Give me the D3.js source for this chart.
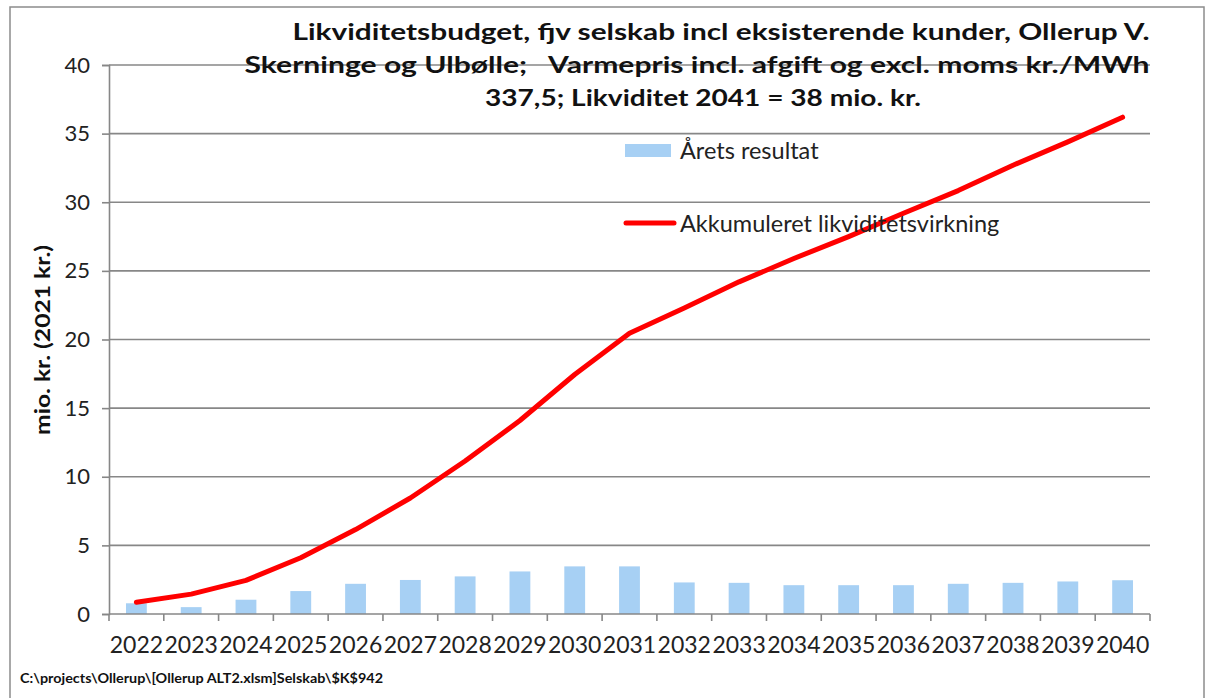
<!DOCTYPE html>
<html>
<head>
<meta charset="utf-8">
<script src="https://cdn.jsdelivr.net/npm/d3@7"></script>
<style>
  body { margin: 0; background: #fff; }
  text { font-family: Lato, "Liberation Sans", sans-serif; white-space: pre; }
</style>
</head>
<body>
<div id="chart"></div>
<script>
// chart data
const years = ["2022", "2023", "2024", "2025", "2026", "2027", "2028", "2029", "2030", "2031",
               "2032", "2033", "2034", "2035", "2036", "2037", "2038", "2039", "2040"];
const aretsResultat = [0.78, 0.5, 1.04, 1.67, 2.2, 2.48, 2.74, 3.1, 3.47, 3.47,
                       2.3, 2.27, 2.1, 2.1, 2.1, 2.2, 2.27, 2.37, 2.46];
const akkumuleret = [0.85, 1.45, 2.45, 4.1, 6.15, 8.45, 11.15, 14.1, 17.45, 20.45,
                     22.3, 24.2, 25.9, 27.5, 29.2, 30.85, 32.7, 34.4, 36.2];
const yTicks = [0, 5, 10, 15, 20, 25, 30, 35, 40];
const titleLines = [
  "Likviditetsbudget, fjv selskab incl eksisterende kunder, Ollerup V.",
  "Skerninge og Ulbølle;   Varmepris incl. afgift og excl. moms kr./MWh",
  "337,5; Likviditet 2041 = 38 mio. kr."
];
const legendLabels = ["Årets resultat", "Akkumuleret likviditetsvirkning"];

// Set dimensions and margins
const W = 1206, H = 698;
const margin = { top: 65, right: 56, bottom: 84, left: 109 };
const width = W - margin.left - margin.right;
const height = H - margin.top - margin.bottom;

const svg = d3.select("#chart")
  .append("svg")
    .attr("width", W)
    .attr("height", H);

// outer frame
svg.append("rect")
  .attr("x", 10).attr("y", 7)
  .attr("width", 1194).attr("height", 700)
  .attr("fill", "none")
  .attr("stroke", "#8c8c8c")
  .attr("stroke-width", 1.5);

const g = svg.append("g")
  .attr("transform", `translate(${margin.left},${margin.top})`);

// scales
const x = d3.scaleBand()
  .domain(years)
  .range([0, width])
  .paddingInner(0.62)
  .paddingOuter(0.31);

const y = d3.scaleLinear()
  .domain([0, 40])
  .range([height, 0]);

// gridlines
g.append("g")
  .selectAll("line")
  .data(yTicks.slice(1))
  .join("line")
    .attr("x1", 0).attr("x2", width)
    .attr("y1", d => y(d)).attr("y2", d => y(d))
    .attr("stroke", "#878787")
    .attr("stroke-width", 1.6);

// bars
g.append("g")
  .selectAll("rect")
  .data(aretsResultat)
  .join("rect")
    .attr("x", (d, i) => x(years[i]))
    .attr("y", d => y(d))
    .attr("width", x.bandwidth())
    .attr("height", d => y(0) - y(d))
    .attr("fill", "#a7d0f4");

// y axis
const yAxis = g.append("g")
  .call(d3.axisLeft(y).tickValues(yTicks).tickSize(7).tickPadding(12));
yAxis.select(".domain").attr("stroke", "#878787").attr("stroke-width", 1.6);
yAxis.selectAll(".tick line").attr("stroke", "#878787").attr("stroke-width", 1.6);
yAxis.selectAll(".tick text")
  .attr("fill", "#222")
  .style("font-size", "22px");

// x axis with ticks at the category borders
const xAxis = g.append("g")
  .attr("transform", `translate(0,${height})`);
xAxis.append("line")
  .attr("x1", 0).attr("x2", width)
  .attr("stroke", "#878787").attr("stroke-width", 1.6);
xAxis.selectAll(".xtick")
  .data(years.concat(["end"]))
  .join("line")
    .attr("class", "xtick")
    .attr("x1", (d, i) => i < years.length ? x(d) - x.step() * x.paddingInner() / 2 : width)
    .attr("x2", (d, i) => i < years.length ? x(d) - x.step() * x.paddingInner() / 2 : width)
    .attr("y1", 0).attr("y2", 7)
    .attr("stroke", "#878787").attr("stroke-width", 1.6);
xAxis.selectAll(".xlabel")
  .data(years)
  .join("text")
    .attr("class", "xlabel")
    .attr("x", d => x(d) + x.bandwidth() / 2)
    .attr("y", 39)
    .attr("text-anchor", "middle")
    .attr("fill", "#222")
    .style("font-size", "23px")
    .text(d => d);

// line
const line = d3.line()
  .x((d, i) => x(years[i]) + x.bandwidth() / 2)
  .y(d => y(d));

g.append("path")
  .datum(akkumuleret)
  .attr("fill", "none")
  .attr("stroke", "#ff0000")
  .attr("stroke-width", 5)
  .attr("stroke-linecap", "round")
  .attr("stroke-linejoin", "round")
  .attr("d", line);

// title
const titleLayout = [
  { cx: 721, y: 40, len: 857 },
  { cx: 697, y: 73, len: 905 },
  { cx: 703, y: 106, len: 436 }
];
svg.append("g")
  .selectAll("text")
  .data(titleLines)
  .join("text")
    .attr("x", (d, i) => titleLayout[i].cx)
    .attr("y", (d, i) => titleLayout[i].y)
    .attr("text-anchor", "middle")
    .attr("textLength", (d, i) => titleLayout[i].len)
    .attr("lengthAdjust", "spacingAndGlyphs")
    .style("font-size", "23px")
    .style("font-weight", "bold")
    .style("fill", "#111")
    .text(d => d);

// legend
svg.append("rect")
  .attr("x", 625).attr("y", 144)
  .attr("width", 46).attr("height", 13)
  .attr("fill", "#a7d0f4");
svg.append("line")
  .attr("x1", 626).attr("x2", 674)
  .attr("y1", 223).attr("y2", 223)
  .attr("stroke", "#ff0000")
  .attr("stroke-width", 5)
  .attr("stroke-linecap", "round");
svg.append("g")
  .selectAll("text")
  .data(legendLabels)
  .join("text")
    .attr("x", 680)
    .attr("y", (d, i) => i === 0 ? 159 : 232)
    .style("font-size", "23.5px")
    .style("fill", "#222")
    .text(d => d);

// y axis name
svg.append("text")
  .attr("transform", "rotate(-90)")
  .attr("x", -340)
  .attr("y", 50)
  .attr("text-anchor", "middle")
  .attr("textLength", 190)
  .attr("lengthAdjust", "spacingAndGlyphs")
  .style("font-size", "21px")
  .style("font-weight", "bold")
  .style("fill", "#111")
  .text("mio. kr. (2021 kr.)");

// source path
svg.append("text")
  .attr("x", 20)
  .attr("y", 683)
  .attr("textLength", 363)
  .attr("lengthAdjust", "spacingAndGlyphs")
  .style("font-size", "13.5px")
  .style("font-weight", "bold")
  .style("fill", "#111")
  .text("C:\\projects\\Ollerup\\[Ollerup ALT2.xlsm]Selskab\\$K$942");
</script>
</body>
</html>
